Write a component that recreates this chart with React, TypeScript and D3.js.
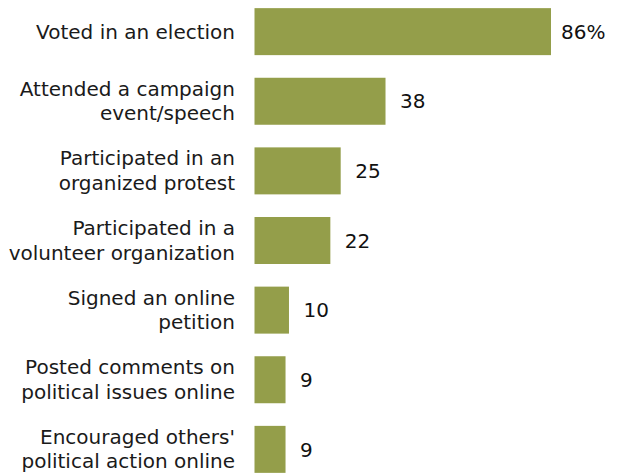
import React from "react";
import * as d3 from "d3";

const categories: string[][] = [
  ["Voted in an election"],
  ["Attended a campaign", "event/speech"],
  ["Participated in an", "organized protest"],
  ["Participated in a", "volunteer organization"],
  ["Signed an online", "petition"],
  ["Posted comments on", "political issues online"],
  ["Encouraged others'", "political action online"],
];
const values: number[] = [86, 38, 25, 22, 10, 9, 9];
const valueLabels: string[] = ["86%", "38", "25", "22", "10", "9", "9"];

const W = 618;
const H = 474;

export default function App() {
  const x = d3.scaleLinear().domain([0, 86]).range([254.5, 551]);
  const y = d3
    .scaleBand<number>()
    .domain(d3.range(values.length))
    .range([-3, 484])
    .paddingInner(0.325)
    .paddingOuter(0.16);
  const font = "'DejaVu Sans', Verdana, sans-serif";
  const lineH = 24.4;
  return (
    <svg
      width={W}
      height={H}
      style={{ position: "absolute", left: 0, top: 0 }}
      fontFamily={font}
    >
      <rect width={W} height={H} fill="#fff" />
      {values.map((v, i) => {
        const y0 = y(i)!;
        const bh = y.bandwidth();
        const cy = y0 + bh / 2;
        const lines = categories[i];
        const startY = lines.length > 1 ? cy - 12.4 : cy;
        return (
          <g key={i}>
            <rect x={x(0)} y={y0} width={x(v) - x(0)} height={bh} fill="#949E4A" />
            {lines.map((l, j) => (
              <text
                key={j}
                x={235}
                y={startY + j * lineH}
                dy="0.35em"
                textAnchor="end"
                fontSize={20}
                fill="#1a1a1a"
              >
                {l}
              </text>
            ))}
            <text
              x={x(v) + (i === 0 ? 10 : 14.5)}
              y={cy}
              dy="0.36em"
              fontSize={20}
              fill="#111"
            >
              {valueLabels[i]}
            </text>
          </g>
        );
      })}
    </svg>
  );
}
